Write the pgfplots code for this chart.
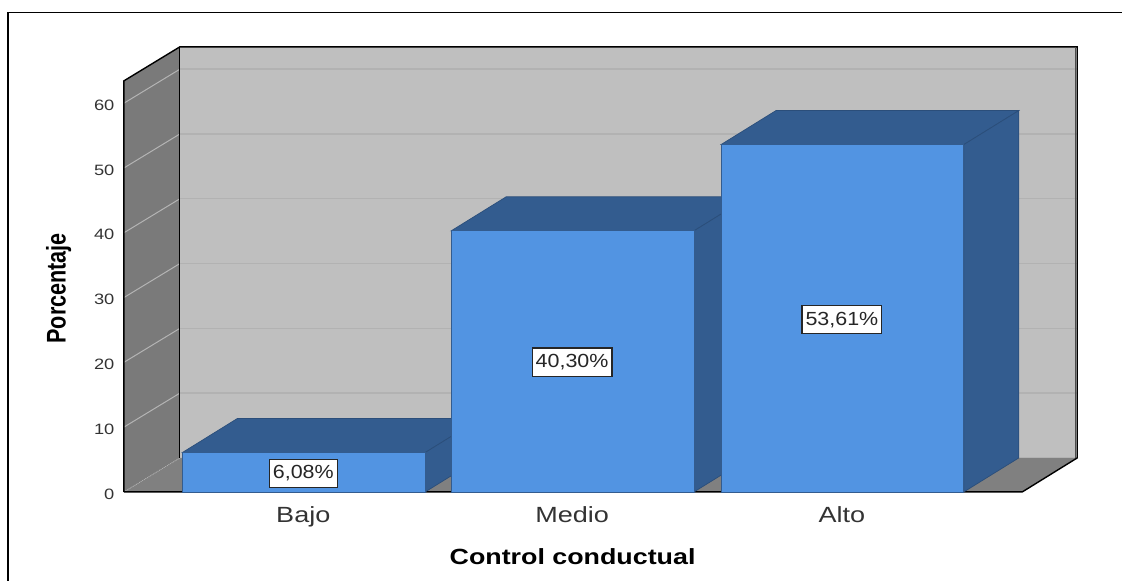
\documentclass[border=0pt]{standalone}
\usepackage{pgfplots}
\pgfplotsset{compat=1.18}
\usepackage{fontspec}
\setmainfont{Liberation Sans}
\newfontfamily\widefont[FakeStretch=1.23]{Liberation Sans}
\newfontfamily\ticksfont[FakeStretch=1.22]{Liberation Sans}
\newfontfamily\valfont[FakeStretch=1.13]{Liberation Sans}
\newfontfamily\xtitlefont[FakeStretch=1.22]{Liberation Sans}
\newfontfamily\ytitlefont[FakeStretch=0.8]{Liberation Sans}
\definecolor{barfront}{HTML}{5294E2}
\definecolor{bardark}{HTML}{335C8F}
\definecolor{backwall}{HTML}{BFBFBF}
\definecolor{sidewall}{HTML}{7A7A7A}
\definecolor{floorgray}{HTML}{808080}
\definecolor{gridback}{HTML}{B2B2B2}
\definecolor{gridside}{HTML}{B4B4B4}
% depth of the 3D box: 56 px across, 34 px up (5.25 units)
\newcommand{\dx}{56}
\newcommand{\dy}{5.25}
% #1 left, #2 right, #3 value
\newcommand{\threedbar}[3]{%
  \addplot[fill=bardark, draw=bardark!85!black, line width=0.7pt]
    coordinates {(#1,#3) (#1+\dx-1,#3+\dy) (#2+\dx-1,#3+\dy) (#2,#3)} --cycle;
  \addplot[fill=bardark, draw=bardark!85!black, line width=0.7pt]
    coordinates {(#2,0) (#2+\dx-1,\dy) (#2+\dx-1,#3+\dy) (#2,#3)} --cycle;
  \addplot[fill=barfront, draw=bardark, line width=0.7pt]
    coordinates {(#1,0) (#2,0) (#2,#3) (#1,#3)} --cycle;
}
\begin{document}
\begin{tikzpicture}[x=1pt,y=1pt]
\begin{axis}[
    at={(124pt,89pt)}, anchor=origin,
    scale only axis, width=899pt, height=389pt,
    xmin=124, xmax=1023, ymin=0, ymax=60,
    clip=false,
    axis x line*=bottom, axis y line*=left,
    axis line style={draw=none},
    xtick={303.5,572.5,842.5},
    xticklabels={Bajo,Medio,Alto},
    ytick={0,10,20,30,40,50,60},
    tick style={draw=none},
    y tick label style={font=\ticksfont\fontsize{15}{17}\selectfont, text=black!80, xshift=-6pt, yshift=-2pt},
    x tick label style={font=\widefont\fontsize{22}{24}\selectfont, text=black!80, yshift=-11pt},
    xlabel={\textbf{Control conductual}},
    ylabel={\textbf{Porcentaje}},
    xlabel style={font=\xtitlefont\fontsize{22}{24}\selectfont, at={(axis description cs:0.4994,-0.1855)}, anchor=base},
    ylabel style={font=\ytitlefont\fontsize{27}{29}\selectfont, at={(axis description cs:-0.0650,0.524)}, anchor=base},
    /pgf/number format/assume math mode=true,
]
% outer frame and page size
\addplot[draw=black, line width=1.6pt] coordinates {(8,-13.73)(8,74)(1123,74)};
\addplot[draw=none, forget plot] coordinates {(0,-13.73)(1123,75.93)};
% walls
\addplot[fill=backwall, draw=none] coordinates {(180,5.25)(1078,5.25)(1078,68.7)(180,68.7)} --cycle;
\addplot[fill=sidewall, draw=none] coordinates {(124,0)(180,5.25)(180,68.7)(124,63.45)} --cycle;
\addplot[fill=floorgray, draw=none] coordinates {(124,0)(1023,0)(1078,5.25)(180,5.25)} --cycle;
% grid
\pgfplotsinvokeforeach{10,20,30,40,50,60}{
  \addplot[gridback, line width=1.4pt] coordinates {(180,#1+\dy)(1078,#1+\dy)};
  \addplot[gridside, line width=1pt] coordinates {(124,#1)(180,#1+\dy)};
}
\addplot[gridside, densely dotted, line width=0.8pt] coordinates {(124,0)(180,5.25)};
% outline of the box
\addplot[black, line width=1.4pt] coordinates {(124,0)(124,63.45)(180,68.7)(1078,68.7)(1078,5.25)(1023,0)(124,0)};
\addplot[black, line width=1.2pt] coordinates {(180,68.7)(180,5.25)};
\addplot[black!70, line width=1.4pt] coordinates {(1076,68.7)(1076,5.25)};
\addplot[gray!60, line width=1pt] coordinates {(1076,5.25)(980,5.25)};
% bars
\threedbar{182.5}{425.5}{6.08}
\threedbar{451.5}{694.5}{40.30}
\threedbar{721.5}{964.5}{53.61}
% value labels
\addplot[only marks, mark=none, nodes near coords, point meta=explicit symbolic,
  every node near coord/.style={anchor=center, fill=white, draw=black!85, line width=1.1pt,
    inner xsep=3.5pt, inner ysep=6.5pt, font=\valfont\fontsize{19}{21}\selectfont, text=black!85}]
  coordinates {(303.5,2.85)[6,08\%] (572.5,20.0)[40,30\%] (842.5,26.6)[53,61\%]};
\end{axis}
\end{tikzpicture}
\end{document}
